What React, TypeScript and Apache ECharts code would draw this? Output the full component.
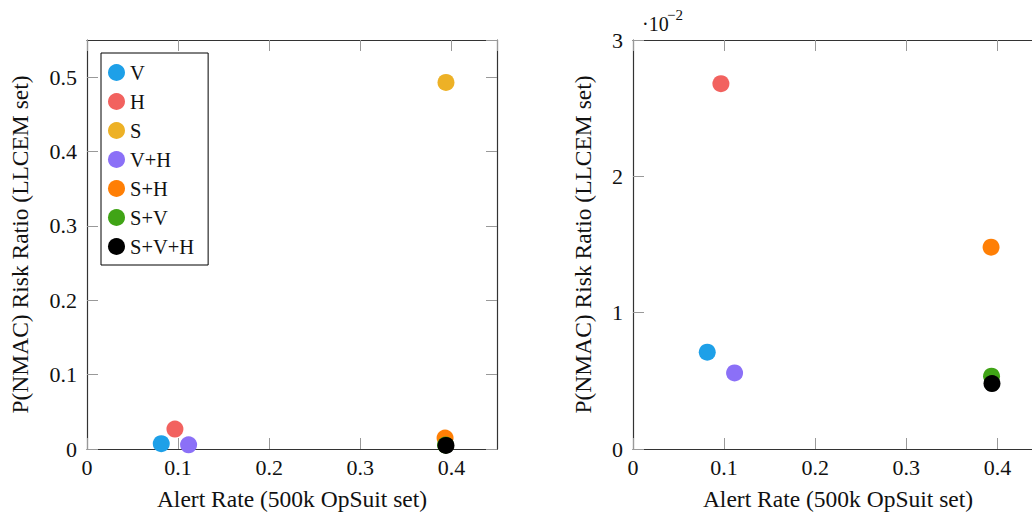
import React, { useEffect, useRef } from "react";
import * as echarts from "echarts";

const seriesNames = ["V", "H", "S", "V+H", "S+H", "S+V", "S+V+H"];
const seriesColors = ["#1ea0e8", "#f2625f", "#edb126", "#8b70f7", "#ff7f05", "#40a416", "#000000"];
const alertRate = [0.0815, 0.0965, 0.394, 0.1115, 0.393, 0.3935, 0.394];
const riskRatio = [0.0071, 0.0268, 0.493, 0.00558, 0.0148, 0.00534, 0.0048];

const leftYTicks = [0, 0.1, 0.2, 0.3, 0.4, 0.5];
const rightYTicks = [0, 1, 2, 3];

const FONT = '"Liberation Serif", "DejaVu Serif", serif';
const xName = "Alert Rate (500k OpSuit set)";
const yName = "P(NMAC) Risk Ratio (LLCEM set)";

export default function App() {
  const ref = useRef<HTMLDivElement>(null);
  useEffect(() => {
    if (!ref.current) return;
    const chart = echarts.init(ref.current, undefined, { renderer: "svg" });
    const lineColor = "#333333";
    const tickColor = "#999999";
    const labelStyle = { fontFamily: FONT, fontSize: 22, color: "#111" };
    const nameStyle = { fontFamily: FONT, fontSize: 23.5, color: "#111" };
    const fmtX = (v: number) => (v === 0 ? "0" : v.toFixed(1));

    const xAxisBase = (gridIndex: number, position: "bottom" | "top", main: boolean) => ({
      type: "value",
      gridIndex,
      position,
      min: 0,
      max: 0.45,
      interval: 0.1,
      name: main ? xName : "",
      nameLocation: "middle",
      nameGap: 38,
      nameTextStyle: nameStyle,
      axisLine: { show: true, onZero: false, lineStyle: { color: lineColor, width: 1.2 } },
      axisTick: { show: true, inside: true, length: 11, lineStyle: { color: tickColor, width: 1 } },
      axisLabel: {
        show: main,
        ...labelStyle,
        margin: 7,
        showMaxLabel: false,
        formatter: fmtX,
      },
      splitLine: { show: false },
    });

    const yAxisBase = (
      gridIndex: number,
      position: "left" | "right",
      main: boolean,
      max: number,
      interval: number,
      formatter: (v: number) => string,
      nameGap: number
    ) => ({
      type: "value",
      gridIndex,
      position,
      min: 0,
      max,
      interval,
      name: main ? yName : "",
      nameLocation: "middle",
      nameGap,
      nameTextStyle: nameStyle,
      axisLine: { show: true, onZero: false, lineStyle: { color: lineColor, width: 1.2 } },
      axisTick: { show: true, inside: true, length: 11, lineStyle: { color: tickColor, width: 1 } },
      axisLabel: {
        show: main,
        ...labelStyle,
        margin: 10,
        showMaxLabel: max !== 0.03 ? false : true,
        formatter,
      },
      splitLine: { show: false },
    });

    const leftFmt = (v: number) => {
      const t = leftYTicks.find((x) => Math.abs(x - v) < 1e-9);
      return t === undefined ? "" : t === 0 ? "0" : t.toFixed(1);
    };
    const rightFmt = (v: number) => {
      const t = rightYTicks.find((x) => Math.abs(x - v * 100) < 1e-9);
      return t === undefined ? "" : String(t);
    };

    const series: any[] = [];
    [0, 1].forEach((g) => {
      seriesNames.forEach((name, i) => {
        series.push({
          type: "scatter",
          name,
          xAxisIndex: g * 2,
          yAxisIndex: g * 2,
          symbol: "circle",
          symbolSize: 17,
          clip: true,
          itemStyle: { color: seriesColors[i], opacity: 1 },
          data: [[alertRate[i], riskRatio[i]]],
          z: 2 + i,
        });
      });
    });

    chart.setOption({
      animation: false,
      backgroundColor: "#ffffff",
      grid: [
        { left: 87, top: 40, width: 410, height: 409, containLabel: false },
        { left: 633, top: 40, width: 410, height: 409, containLabel: false },
      ],
      xAxis: [
        xAxisBase(0, "bottom", true),
        xAxisBase(0, "top", false),
        xAxisBase(1, "bottom", true),
        xAxisBase(1, "top", false),
      ],
      yAxis: [
        yAxisBase(0, "left", true, 0.55, 0.1, leftFmt, 55),
        yAxisBase(0, "right", false, 0.55, 0.1, leftFmt, 0),
        yAxisBase(1, "left", true, 0.03, 0.01, rightFmt, 38),
        yAxisBase(1, "right", false, 0.03, 0.01, rightFmt, 0),
      ],
      legend: {
        data: seriesNames,
        orient: "vertical",
        left: 101,
        top: 53,
        padding: [9, 14, 8, 7],
        itemGap: 8,
        itemWidth: 17,
        itemHeight: 17,
        icon: "circle",
        borderColor: "#000",
        borderWidth: 1,
        borderRadius: 0,
        backgroundColor: "#fff",
        textStyle: { fontFamily: FONT, fontSize: 20.5, color: "#111" },
        selectedMode: false,
      },
      graphic: [
        {
          type: "text",
          x: 642,
          y: 24,
          style: { text: "·10", font: `20px ${FONT}`, fill: "#111", verticalAlign: "middle" },
        },
        {
          type: "text",
          x: 667,
          y: 15,
          style: { text: "−2", font: `15px ${FONT}`, fill: "#111", verticalAlign: "middle" },
        },
      ],
      series,
    });
    return () => chart.dispose();
  }, []);

  return (
    <div
      style={{
        position: "fixed",
        left: 0,
        top: 0,
        width: 1032,
        height: 516,
        overflow: "hidden",
        background: "#fff",
      }}
    >
      <div ref={ref} style={{ width: 1060, height: 516 }} />
    </div>
  );
}
